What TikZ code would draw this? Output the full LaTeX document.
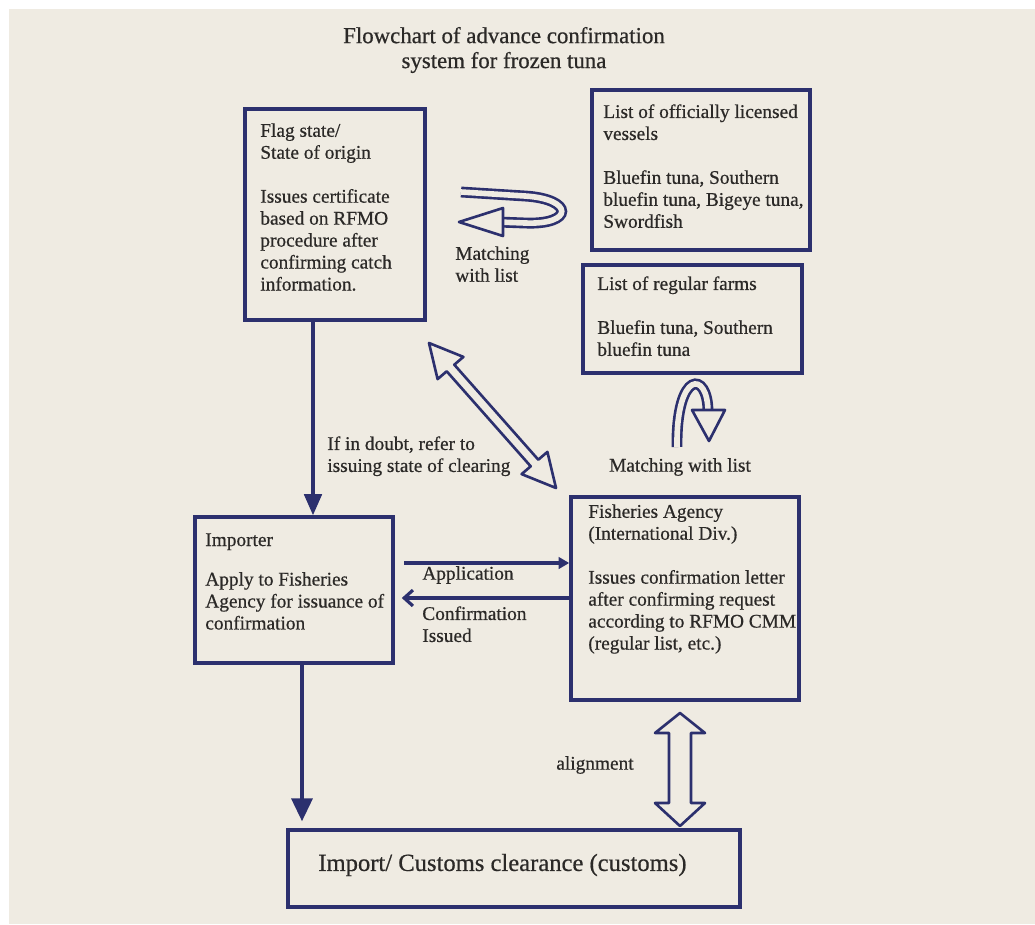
\documentclass[tikz,border=0pt]{standalone}
\usepackage{fontspec}
\setmainfont{Liberation Serif}[FakeBold=0.6]
\usetikzlibrary{arrows.meta,fit}
\definecolor{navy}{HTML}{2C306E}
\definecolor{paper}{HTML}{EFEBE2}
\definecolor{ink}{HTML}{2B2927}
\begin{document}
\begin{tikzpicture}[x=0.02cm,y=-0.02cm,
  box/.style={draw=navy, line width=2pt, inner sep=0pt},
  txt/.style={anchor=north west, inner sep=0pt, align=left, text=ink,
    font=\fontsize{11}{12.5}\selectfont},
  lbl/.style={inner sep=0pt, text=ink, font=\fontsize{11}{12.5}\selectfont},
  conn/.style={draw=navy, line width=1.8pt},
  hollow/.style={draw=navy, line width=1.5pt, fill=paper, line join=round},
  band/.style={draw=navy, line width=1.5pt, double=paper, double distance=3.2pt}]
% background
\useasboundingbox (0,0) rectangle (1035,924);
\fill[white] (0,0) rectangle (1035,924);
\fill[paper] (9,9) rectangle (1035,924);

% title
\node[lbl, align=center, font=\fontsize{13}{14.2}\selectfont] (title) at (504,50)
  {Flowchart of advance confirmation\\system for frozen tuna};

% boxes
\node[box, fit={(245,109) (425,320)}] (flag) {};
\node[box, fit={(592,90) (810,250)}] (vessels) {};
\node[box, fit={(583,265) (802,373)}] (farms) {};
\node[box, fit={(195,517) (393,663)}] (importer) {};
\node[box, fit={(571,497) (799,700)}] (agency) {};
\node[box, fit={(288,830) (740,907)}] (customs) {};

% box texts
\node[txt] (flagt) at (260,123) {Flag state/\\State of origin\\[12.5pt]Issues certificate\\based on RFMO\\procedure after\\confirming catch\\information.};
\node[txt] (vesselst) at (603,104) {List of officially licensed\\vessels\\[12.5pt]Bluefin tuna, Southern\\bluefin tuna, Bigeye tuna,\\Swordfish};
\node[txt] (farmst) at (597,276) {List of regular farms\\[12.5pt]Bluefin tuna, Southern\\bluefin tuna};
\node[txt] (importert) at (205,533) {Importer\\[10pt]Apply to Fisheries\\Agency for issuance of\\confirmation};
\node[txt] (agencyt) at (588,504) {Fisheries Agency\\(International Div.)\\[12.5pt]Issues confirmation letter\\after confirming request\\according to RFMO CMM\\(regular list, etc.)};
\node[lbl, anchor=west, font=\fontsize{14}{16}\selectfont] (customst) at (318,865) {Import/ Customs clearance (customs)};

% helper coordinates
\coordinate (fx) at (313,0);
\coordinate (ix) at (302,0);
\coordinate (ay) at (0,563);
\coordinate (cy) at (0,598);

% straight connectors
\draw[conn, -{Triangle[length=12pt,width=10pt]}] (flag.south -| fx) -- (importer.north -| fx);
\draw[conn, -{Triangle[length=13pt,width=12pt]}] (importer.south -| ix) -- ([yshift=4pt]customs.north -| ix);
\draw[conn, shorten <=5.5pt, -{Triangle[length=6pt,width=6.5pt]}] (importer.east |- ay) -- (agency.west |- ay);
\draw[conn, shorten >=4pt, -{Straight Barb[length=5pt,width=9pt]}] (agency.west |- cy) -- (importer.east |- cy);

% diagonal double hollow arrow (flag <-> agency)
\coordinate (dA) at (429,343);
\coordinate (dB) at (556,488);
\draw[hollow] (dA) -- (437.6,379.1) -- (446.7,371.3) -- (530.7,466.3) -- (521.6,474.1)
  -- (dB) -- (547.4,451.9) -- (538.3,459.7) -- (454.3,364.7) -- (463.4,356.9) -- cycle;

% vertical double hollow arrow (agency <-> customs)
\coordinate (vA) at (680,713);
\coordinate (vB) at (680,826);
\draw[hollow] (vA) -- (705,733) -- (691,733) -- (691,803) -- (705,803) -- (vB)
  -- (655,803) -- (669,803) -- (669,733) -- (655,733) -- cycle;

% loop arrow (flag <-> vessels matching)
\draw[band] (461,192) -- (525,196) .. controls (574,199) and (574,225) .. (525,223) -- (498,222);
\draw[hollow] (459,222) -- (503,208) -- (503,236) -- cycle;

% curved arrow (agency -> farms matching)
\draw[band] (677,447) .. controls (676,370) and (708,370) .. (708,412);
\draw[hollow] (692,410) -- (725,410) -- (709,441) -- cycle;

% labels
\node[txt] (match1) at (455,246) {Matching\\with list};
\node[txt] (doubt) at (327,436) {If in doubt, refer to\\issuing state of clearing};
\node[lbl] (match2) at (680,467) {Matching with list};
\node[lbl] (align) at (595,765) {alignment};
\node[lbl] (appl) at (468,575) {Application};
\node[txt] (conf) at (422,606) {Confirmation\\Issued};
\end{tikzpicture}
\end{document}
